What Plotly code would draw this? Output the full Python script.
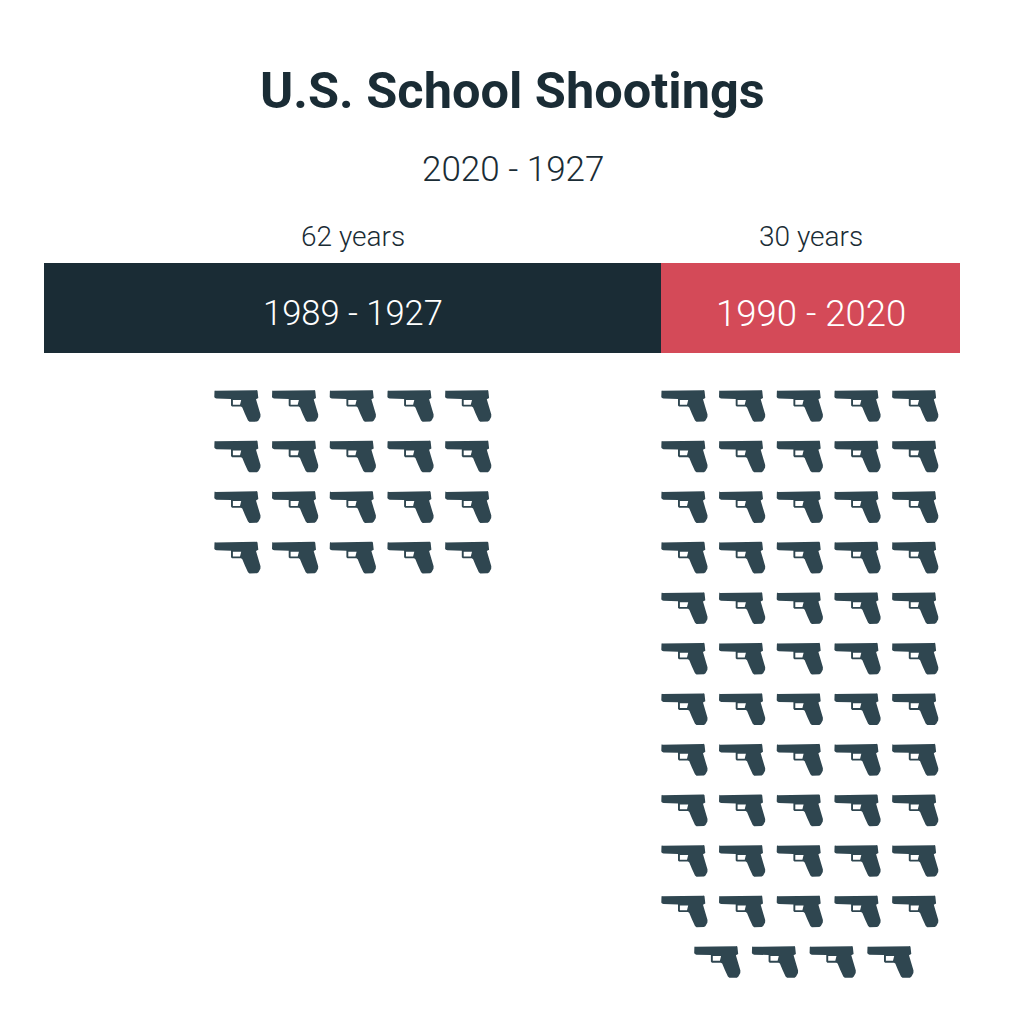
import plotly.graph_objects as go

# bar values
periods = ["1989 - 1927", "1990 - 2020"]
years = [62, 30]
year_labels = ["62 years", "30 years"]
bar_colors = ["#1a2c35", "#d44a58"]
period_sizes = [34.5, 36.5]

# one icon per shooting, 5 to a row
shootings = [20, 59]
per_row = 5
group_start = [0, 7.747]
short_row_shift = 0.57

title_text = "U.S. School Shootings"
subtitle_text = "2020 - 1927"

DARK = "#1a2c35"
ICON = "#2f4650"
# the page body has an 8px margin, so the figure starts at 8,8
OFF = 8
W = 1008
COL = 57.7
ROW = 50.55
GRID_TOP = 370

# pistol outline in pixels from the icon's top left corner
PISTOL = [
    (0.5, 1), (1, 0.4), (1.5, 0.8), (42, 0.2), (42.8, 0), (43.5, 0.8), (44.3, 8), (42, 9.3),
    (46.5, 24.5), (46.4, 27), (44.5, 30.5), (43, 31.6), (35.5, 31.8), (34, 30.5),
    (31, 24), (28.3, 17.5), (27, 16.6), (18, 16.6), (17, 15.5), (17, 9), (2.5, 8.6), (1, 8), (0.3, 7),
]
HOLE = [(18.9, 10), (18.9, 14.8), (26, 14.8), (27.2, 10)]


def icon_path():
    out = ""
    for pts in (PISTOL, HOLE):
        out += "M" + " L".join(f"{x},{-y}" for x, y in pts) + " Z "
    return out


def frac_x(p):
    return (p - OFF) / W


def frac_y(p):
    return 1 - (p - OFF) / W


fig = go.Figure()

for i in range(len(periods)):
    fig.add_trace(go.Bar(
        x=[years[i]], y=[0], orientation="h", width=1,
        marker=dict(color=bar_colors[i], line=dict(width=0)),
        showlegend=False, hoverinfo="skip",
        xaxis="x", yaxis="y",
    ))

anchors_x, anchors_y, shapes = [], [], []
for g in range(len(shootings)):
    for n in range(shootings[g]):
        row = n // per_row
        col = n % per_row
        left_in_row = shootings[g] - row * per_row
        shift = short_row_shift if left_in_row < per_row else 0
        x = group_start[g] + col + shift
        anchors_x.append(x)
        anchors_y.append(row)
        shapes.append(dict(
            type="path", path=icon_path(), xsizemode="pixel", ysizemode="pixel",
            xref="x2", yref="y2", xanchor=x, yanchor=row,
            fillcolor=ICON, line=dict(width=0), layer="above",
        ))

fig.add_trace(go.Scatter(
    x=anchors_x, y=anchors_y, mode="markers", marker=dict(size=1, opacity=0),
    showlegend=False, hoverinfo="skip", xaxis="x2", yaxis="y2",
))

annotations = [
    dict(text=f"<b>{title_text}</b>", xref="paper", yref="paper", x=frac_x(512.5), y=frac_y(90),
         showarrow=False, xanchor="center", yanchor="middle",
         font=dict(family="Roboto", size=50.5, color=DARK)),
    dict(text=subtitle_text, xref="paper", yref="paper", x=frac_x(512.5), y=frac_y(169),
         showarrow=False, xanchor="center", yanchor="middle",
         font=dict(family="Roboto", size=35, color=DARK, weight=300)),
]
start = 0
for i in range(len(years)):
    annotations.append(dict(
        text=year_labels[i], xref="x", yref="paper", x=start + years[i] / 2, y=frac_y(237),
        showarrow=False, xanchor="center", yanchor="middle",
        font=dict(family="Roboto", size=28, color=DARK, weight=300),
    ))
    annotations.append(dict(
        text=periods[i], xref="x", yref="paper", x=start + years[i] / 2, y=frac_y(313),
        showarrow=False, xanchor="center", yanchor="middle",
        font=dict(family="Roboto", size=period_sizes[i], color="white", weight=300),
    ))
    start += years[i]

fig.update_layout(
    width=W, height=W, barmode="stack", bargap=0,
    margin=dict(l=0, r=0, t=0, b=0),
    paper_bgcolor="white", plot_bgcolor="white",
    shapes=shapes, annotations=annotations,
    xaxis=dict(domain=[frac_x(44), frac_x(960)], range=[0, sum(years)], visible=False, fixedrange=True),
    yaxis=dict(domain=[frac_y(353), frac_y(263)], range=[-0.5, 0.5], visible=False, fixedrange=True),
    # icon grid under the bar: one unit is one column / one row
    xaxis2=dict(domain=[0, 1], range=[(OFF - 214) / COL, (OFF + W - 214) / COL], visible=False,
                fixedrange=True, anchor="y2"),
    yaxis2=dict(domain=[0, frac_y(GRID_TOP)], range=[(OFF + W - 390) / ROW, (GRID_TOP - 390) / ROW],
                visible=False, fixedrange=True, anchor="x2"),
)

fig.write_html("out.html")
